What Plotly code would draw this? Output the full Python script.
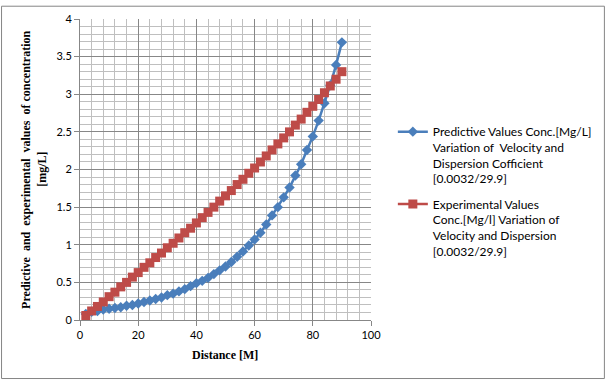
import plotly.graph_objects as go

distance = [2, 4, 6, 8, 10, 12, 14, 16, 18, 20, 22, 24, 26, 28, 30, 32, 34, 36, 38, 40,
            42, 44, 46, 48, 50, 52, 54, 56, 58, 60, 62, 64, 66, 68, 70, 72, 74, 76, 78, 80,
            82, 84, 86, 88, 90]

predicted = [0.08, 0.11, 0.12, 0.14, 0.15, 0.16, 0.17, 0.19, 0.20, 0.22, 0.24, 0.26, 0.28, 0.30,
             0.33, 0.35, 0.38, 0.41, 0.45, 0.49, 0.52, 0.56, 0.61, 0.66, 0.71, 0.77, 0.84, 0.91,
             0.99, 1.07, 1.16, 1.27, 1.39, 1.50, 1.63, 1.76, 1.92, 2.07, 2.26, 2.44, 2.65, 2.88,
             3.12, 3.39, 3.69]

experimental = [0.06, 0.12, 0.18, 0.24, 0.31, 0.37, 0.44, 0.50, 0.57, 0.63, 0.70, 0.76, 0.83, 0.89,
                0.96, 1.02, 1.09, 1.16, 1.22, 1.29, 1.36, 1.43, 1.50, 1.58, 1.65, 1.72, 1.80, 1.87,
                1.95, 2.02, 2.10, 2.18, 2.26, 2.34, 2.42, 2.50, 2.59, 2.67, 2.76, 2.84, 2.93, 3.02,
                3.11, 3.20, 3.30]

name_pred = "Predictive Values Conc.[Mg/L]<br>Variation of  Velocity and<br>Dispersion Cofficient<br>[0.0032/29.9]"
name_exp = "Experimental Values<br>Conc.[Mg/l] Variation of<br>Velocity and Dispersion<br>[0.0032/29.9]"

x_ticks = [0, 20, 40, 60, 80, 100]
y_ticks = [0, 0.5, 1, 1.5, 2, 2.5, 3, 3.5, 4]
x_minor = list(range(0, 101, 4))
y_minor = [round(i * 0.1, 1) for i in range(0, 41)]

BLUE = "#4A7EBB"
RED = "#BE4B48"
GRID_MAJOR = "#878787"
GRID_MINOR = "#BFBFBF"

fig = go.Figure()
fig.add_trace(go.Scatter(
    x=distance, y=predicted, name=name_pred, mode="lines+markers",
    line=dict(color=BLUE, width=2.5),
    marker=dict(symbol="diamond", size=8, color=BLUE),
    legendgroup="a",
))
fig.add_trace(go.Scatter(
    x=distance, y=experimental, name=name_exp, mode="lines+markers",
    line=dict(color=RED, width=2.5),
    marker=dict(symbol="square", size=9, color=RED),
    legendgroup="b",
))

W, H = 609, 381
L, R, T, B = 80, 236, 14, 61
pw = W - L - R
ph = H - T - B

def px_to_paper_x(px):
    return (px - L) / pw

def px_to_paper_y(py):
    return (H - B - py) / ph

fig.update_layout(
    width=W, height=H,
    margin=dict(l=L, r=R, t=T, b=B, pad=0),
    paper_bgcolor="white", plot_bgcolor="white",
    font=dict(family="Lato, Liberation Sans, sans-serif", size=11, color="#000000"),
    showlegend=True,
    legend=dict(
        x=px_to_paper_x(395), y=px_to_paper_y(114), xanchor="left", yanchor="top",
        font=dict(family="Lato, Liberation Sans, sans-serif", size=12, color="#000000"),
        valign="top", tracegroupgap=7, bgcolor="rgba(0,0,0,0)",
        itemwidth=30,
    ),
    xaxis=dict(
        range=[0, 100], tickmode="array", tickvals=x_ticks, ticktext=[str(v) for v in x_ticks],
        showgrid=True, gridcolor=GRID_MAJOR, gridwidth=1,
        showline=True, linecolor=GRID_MAJOR, linewidth=1,
        ticks="outside", ticklen=5, tickcolor=GRID_MAJOR,
        minor=dict(tickmode="array", tickvals=x_minor, showgrid=True, gridcolor=GRID_MINOR, gridwidth=1, ticks=""),
        zeroline=False, fixedrange=True,
        tickfont=dict(size=11),
        layer="below traces",
    ),
    yaxis=dict(
        range=[0, 4], tickmode="array", tickvals=y_ticks, ticktext=[("%g" % v) for v in y_ticks],
        showgrid=True, gridcolor=GRID_MAJOR, gridwidth=1,
        showline=True, linecolor=GRID_MAJOR, linewidth=1,
        ticks="outside", ticklen=5, tickcolor=GRID_MAJOR,
        minor=dict(tickmode="array", tickvals=y_minor, showgrid=True, gridcolor=GRID_MINOR, gridwidth=1, ticks=""),
        zeroline=False, fixedrange=True,
        tickfont=dict(size=11),
        layer="below traces",
    ),
    annotations=[
        dict(text="<b>Predictive  and  experimental  values  of concentration</b>",
             xref="paper", yref="paper", x=px_to_paper_x(25), y=px_to_paper_y(167),
             xanchor="center", yanchor="middle", textangle=-90, showarrow=False,
             font=dict(family="Liberation Serif, Times New Roman, serif", size=12, color="#000000")),
        dict(text="<b>[mg/L]</b>",
             xref="paper", yref="paper", x=px_to_paper_x(41), y=px_to_paper_y(167),
             xanchor="center", yanchor="middle", textangle=-90, showarrow=False,
             font=dict(family="Liberation Serif, Times New Roman, serif", size=12, color="#000000")),
        dict(text="<b>Distance [M]</b>",
             xref="paper", yref="paper", x=px_to_paper_x(226), y=px_to_paper_y(356),
             xanchor="center", yanchor="middle", showarrow=False,
             font=dict(family="Liberation Serif, Times New Roman, serif", size=12, color="#000000")),
    ],
    shapes=[
        dict(type="rect", xref="paper", yref="paper",
             x0=px_to_paper_x(1), x1=px_to_paper_x(608),
             y0=px_to_paper_y(379.5), y1=px_to_paper_y(1),
             line=dict(color="#868686", width=1), fillcolor="rgba(0,0,0,0)", layer="below"),
    ],
)

fig.write_html("out.html", config={"displayModeBar": False})

# remove default page margin so the figure sits at the window origin
with open("out.html", "r", encoding="utf-8") as f:
    html = f.read()
html = html.replace("<body>", '<body style="margin:0;padding:0;">', 1)
html = html.replace("<head>", '<head><style>html,body{margin:0;padding:0;overflow:hidden;}</style>', 1)
with open("out.html", "w", encoding="utf-8") as f:
    f.write(html)
